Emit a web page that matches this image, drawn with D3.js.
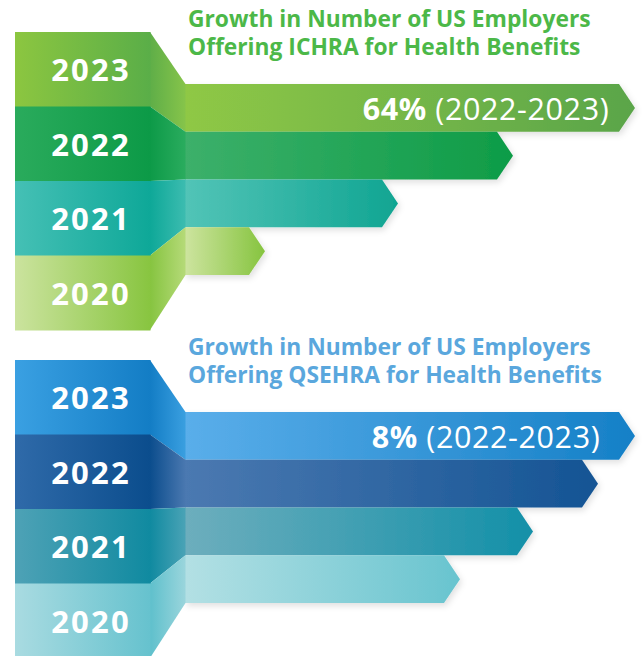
<!DOCTYPE html>
<html>
<head>
<meta charset="utf-8">
<script src="https://cdn.jsdelivr.net/npm/d3@7"></script>
<style>
  html, body { margin: 0; padding: 0; background: #ffffff; }
  svg { display: block; }
</style>
</head>
<body>
<svg id="chart" width="644" height="656"></svg>
<script>
// ---------------- DATA ----------------
const years = ["2023", "2022", "2021", "2020"];
// relative number of employers (arrow length index, 2023 = 450)
const ichraValues = [450, 328, 213, 80];
const qsehraValues = [450, 413, 348, 275];
const ichraTitle = ["Growth in Number of US Employers", "Offering ICHRA for Health Benefits"];
const qsehraTitle = ["Growth in Number of US Employers", "Offering QSEHRA for Health Benefits"];
const ichraGrowth = ["64%", " (2022-2023)"];
const qsehraGrowth = ["8%", " (2022-2023)"];
const valueDomain = [0, 450];

// ---------------- STYLE ----------------
const ichraColors = {
  title: "#4cb848",
  block: { "2023": ["#8cc640", "#5aae48"], "2022": ["#2aab5c", "#0c9a47"], "2021": ["#45c0b5", "#0ea898"], "2020": ["#cbe39e", "#88c540"] },
  side:  { "2023": ["#5fae48", "#86c44a"], "2022": ["#0d9a48", "#2aac5e"], "2021": ["#0ea898", "#3cbcb0"], "2020": ["#86c440", "#b5da78"] },
  rib:   { "2023": ["#8fc845", "#5aa54a"], "2022": ["#3cb06a", "#0e9c47"], "2021": ["#52c4b7", "#10a592"], "2020": ["#cde49f", "#86c43f"] }
};
const qsehraColors = {
  title: "#5aa7dd",
  block: { "2023": ["#3aa0e2", "#137dc5"], "2022": ["#2f6aa9", "#0b4d8d"], "2021": ["#4ea2b6", "#108aa0"], "2020": ["#a9dbe1", "#66c2ce"] },
  side:  { "2023": ["#137dc5", "#3a9fe0"], "2022": ["#0b4d8d", "#4a78b0"], "2021": ["#108aa0", "#4aa3b6"], "2020": ["#5fc0cc", "#9ad5dc"] },
  rib:   { "2023": ["#5aaeea", "#1580c7"], "2022": ["#4b79b1", "#145494"], "2021": ["#6daebd", "#1390a8"], "2020": ["#b3e0e4", "#68c4cf"] }
};

const svg = d3.select("#chart");
const defs = svg.append("defs");
const shadow = defs.append("filter").attr("id", "shadow")
  .attr("x", "-5%").attr("y", "-20%").attr("width", "115%").attr("height", "150%");
shadow.append("feDropShadow").attr("dx", 2).attr("dy", 3).attr("stdDeviation", 3)
  .attr("flood-color", "#000").attr("flood-opacity", 0.12);

function grad(id, c0, c1) {
  const g = defs.append("linearGradient").attr("id", id)
    .attr("x1", "0%").attr("x2", "100%").attr("y1", "0%").attr("y2", "0%");
  g.append("stop").attr("offset", "0%").attr("stop-color", c0);
  g.append("stop").attr("offset", "100%").attr("stop-color", c1);
  return "url(#" + id + ")";
}

function drawPanel(opts) {
  const { key, values, title, growth, colors, top } = opts;
  const g = svg.append("g");
  const blockX0 = 15, blockX1 = 150, ribX0 = 185;
  const yBlock = d3.scaleBand().domain(years).range([top + 32, top + 330]).padding(0);
  const yRib = d3.scaleBand().domain(years).range([top + 84, top + 275]).padding(0);
  const x = d3.scaleLinear().domain(valueDomain).range([ribX0, 635]);
  const depth = 16;

  // title
  const t = g.append("text").attr("x", 188).attr("y", top + 27)
    .attr("font-family", "'Open Sans', sans-serif").attr("font-weight", 700)
    .attr("font-size", 22.8).attr("fill", colors.title);
  title.forEach((line, i) => {
    t.append("tspan").attr("x", 188).attr("dy", i === 0 ? 0 : 28).text(line);
  });

  // arrows
  const arrows = g.append("g").attr("filter", "url(#shadow)");
  years.forEach((yr, i) => {
    const y0 = yRib(yr), y1 = y0 + yRib.bandwidth();
    const xe = x(values[i]);
    const d = d3.path();
    d.moveTo(ribX0, y0);
    d.lineTo(xe - depth, y0);
    d.lineTo(xe, (y0 + y1) / 2);
    d.lineTo(xe - depth, y1);
    d.lineTo(ribX0, y1);
    d.closePath();
    arrows.append("path").attr("d", d.toString())
      .attr("fill", grad(key + "rib" + yr, colors.rib[yr][0], colors.rib[yr][1]));
  });

  // side faces
  years.forEach((yr) => {
    const b0 = yBlock(yr), b1 = b0 + yBlock.bandwidth();
    const r0 = yRib(yr), r1 = r0 + yRib.bandwidth();
    g.append("polygon")
      .attr("points", [[blockX1, b0], [ribX0 + 0.5, r0], [ribX0 + 0.5, r1], [blockX1, b1]].map(p => p.join(",")).join(" "))
      .attr("fill", grad(key + "side" + yr, colors.side[yr][0], colors.side[yr][1]));
  });

  // front block
  years.forEach((yr) => {
    g.append("rect").attr("x", blockX0).attr("y", yBlock(yr))
      .attr("width", blockX1 - blockX0 + 0.5).attr("height", yBlock.bandwidth() + 0.5)
      .attr("fill", grad(key + "block" + yr, colors.block[yr][0], colors.block[yr][1]));
    g.append("text").attr("x", 91).attr("y", yBlock(yr) + yBlock.bandwidth() / 2 + 12)
      .attr("text-anchor", "middle")
      .attr("font-family", "'Open Sans', sans-serif").attr("font-weight", 700)
      .attr("font-size", 31).attr("letter-spacing", 2.2).attr("fill", "#ffffff")
      .text(yr);
  });

  // growth label on top arrow
  const gy = yRib(years[0]) + yRib.bandwidth() / 2 + 12;
  const lab = g.append("text").attr("x", 486).attr("y", gy).attr("text-anchor", "middle")
    .attr("font-family", "'Open Sans', sans-serif").attr("font-size", 30.5)
    .attr("letter-spacing", 0.6).attr("fill", "#ffffff");
  lab.append("tspan").attr("font-weight", 700).text(growth[0]);
  lab.append("tspan").attr("font-weight", 400).text(growth[1]);
}

drawPanel({ key: "ichra", values: ichraValues, title: ichraTitle, growth: ichraGrowth, colors: ichraColors, top: 0 });
drawPanel({ key: "qsehra", values: qsehraValues, title: qsehraTitle, growth: qsehraGrowth, colors: qsehraColors, top: 328 });
</script>
</body>
</html>
